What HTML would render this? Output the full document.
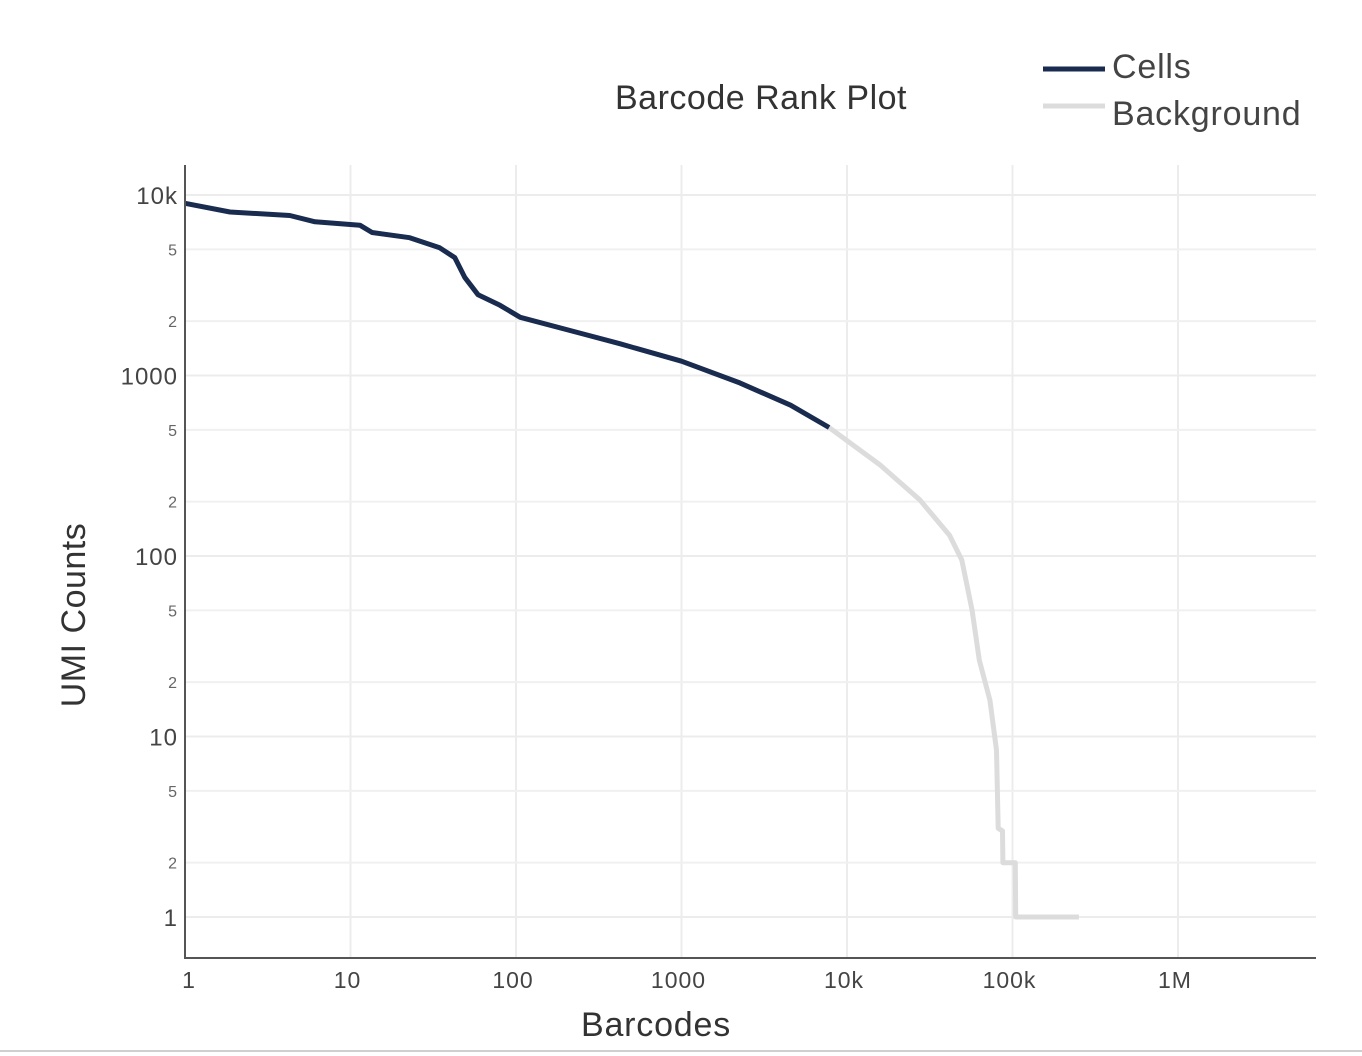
<!DOCTYPE html>
<html><head><meta charset="utf-8"><style>
html,body{margin:0;padding:0;background:#fff;}
svg{display:block;font-family:"Liberation Sans",sans-serif;}
</style></head><body>
<svg id="chart" width="1362" height="1056" viewBox="0 0 1362 1056">
<rect x="0" y="0" width="1362" height="1056" fill="#fff"/>
<line x1="0" y1="1051" x2="1362" y2="1051" stroke="#cfcfcf" stroke-width="2"/>
<g id="grid"></g>
<g id="series"></g>
<g id="axes"></g>
<text x="761" y="109" font-size="34" letter-spacing="0.5" fill="#333" text-anchor="middle">Barcode Rank Plot</text>
<g>
<line x1="1043" y1="69" x2="1105" y2="69" stroke="#1a2b50" stroke-width="5"/>
<text x="1112" y="78" font-size="34" letter-spacing="0.8" fill="#444">Cells</text>
<line x1="1043" y1="106" x2="1105" y2="106" stroke="#dcdcdc" stroke-width="5"/>
<text x="1112" y="125" font-size="34" letter-spacing="0.8" fill="#444">Background</text>
</g>
<text x="656" y="1036" font-size="34" letter-spacing="0.8" fill="#333" text-anchor="middle">Barcodes</text>
<text x="0" y="0" font-size="34" letter-spacing="0.5" fill="#333" text-anchor="middle" transform="translate(85,615) rotate(-90)">UMI Counts</text>
</svg>
<script>
const xTickValues=[1,10,100,1000,10000,100000,1000000];
const xTickLabels=["1","10","100","1000","10k","100k","1M"];
const yMajorValues=[1,10,100,1000,10000];
const yMajorLabels=["1","10","100","1000","10k"];
const yMinorValues=[2,5,20,50,200,500,2000,5000];
const yMinorLabels=["2","5","2","5","2","5","2","5"];
const cellsRank=[1,1.87,4.3,6.1,11.4,13.5,22.8,34.6,42.7,49,59,80,106,242,424,1000,2250,4560,7800];
const cellsUmi=[9000,8050,7700,7100,6800,6200,5800,5100,4500,3500,2800,2450,2100,1720,1500,1200,910,685,515];
const bgRank=[7800,15800,27500,41700,49400,57000,63000,73000,80000,82000,87000,87500,104000,104500,252000];
const bgUmi=[515,320,205,130,95,50,26.5,15.9,8.4,3.1,3,2,2,1,1];

const NS="http://www.w3.org/2000/svg";
const X0=185,XD=165.5,Y0=917,YD=180.5,TOP=165,BOT=958,RIGHT=1316;
const xs=v=>X0+XD*Math.log10(v);
const ys=v=>Y0-YD*Math.log10(v);
function mk(tag,attrs,parent){const e=document.createElementNS(NS,tag);for(const k in attrs)e.setAttribute(k,attrs[k]);parent.appendChild(e);return e;}
const grid=document.getElementById('grid'),axes=document.getElementById('axes'),series=document.getElementById('series');

xTickValues.forEach((v,i)=>{
  const x=xs(v);
  if(i>0){const g=mk('line',{x1:x,y1:TOP,x2:x,y2:BOT,stroke:'#ececec','stroke-width':2},grid);
  
  }
  const t=mk('text',{x:x+(i==0?4:-3),y:988,'font-size':23,'letter-spacing':1,fill:'#444','text-anchor':'middle'},axes);
  t.textContent=xTickLabels[i];
  
  
});
yMajorValues.forEach((v,i)=>{
  const y=ys(v);
  const g=mk('line',{x1:X0,y1:y,x2:RIGHT,y2:y,stroke:'#ececec','stroke-width':2},grid);
  
  
  const t=mk('text',{x:178,y:y+9,'font-size':24,'letter-spacing':1,fill:'#444','text-anchor':'end'},axes);
  t.textContent=yMajorLabels[i];
  
  
});
yMinorValues.forEach((v,i)=>{
  const y=ys(v);
  const g=mk('line',{x1:X0,y1:y,x2:RIGHT,y2:y,stroke:'#f0f0f0','stroke-width':2},grid);
  
  
  const t=mk('text',{x:177,y:y+6,'font-size':16,fill:'#666','text-anchor':'end'},axes);
  t.textContent=yMinorLabels[i];
  
  
});
const ya=mk('line',{x1:X0,y1:TOP,x2:X0,y2:BOT+1,stroke:'#555','stroke-width':2},axes);


const xa=mk('line',{x1:X0-1,y1:BOT,x2:RIGHT,y2:BOT,stroke:'#555','stroke-width':2},axes);



function pts(r,u){return r.map((v,i)=>xs(v).toFixed(1)+','+ys(u[i]).toFixed(1)).join(' ');}
const bg=mk('polyline',{points:pts(bgRank,bgUmi),fill:'none',stroke:'#dcdcdc','stroke-width':5,'stroke-linejoin':'round'},series);


const cl=mk('polyline',{points:pts(cellsRank,cellsUmi),fill:'none',stroke:'#1a2b50','stroke-width':5,'stroke-linejoin':'round'},series);


</script>
</body></html>
